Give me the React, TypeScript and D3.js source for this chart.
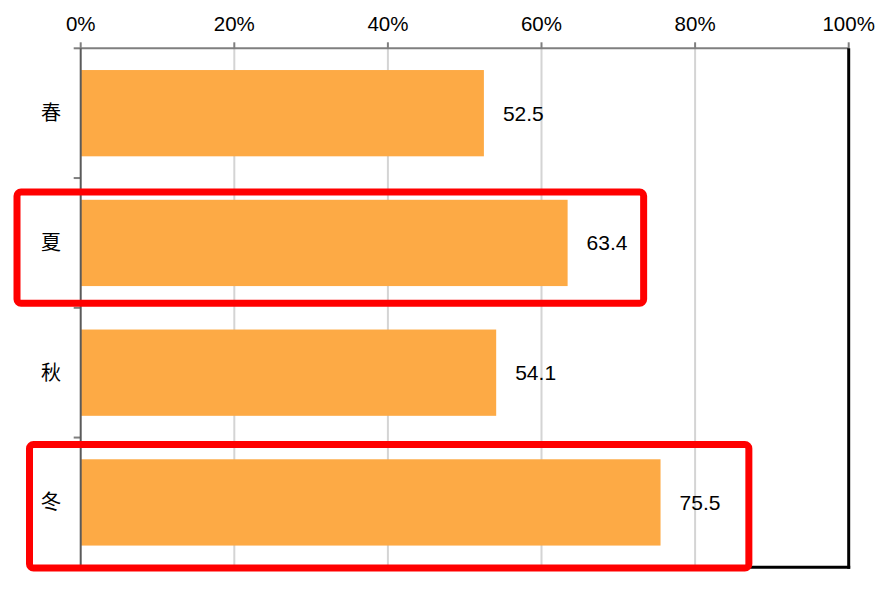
import React from 'react';
import * as d3 from 'd3';

// chart values
const seasons = ['春', '夏', '秋', '冬'];
const rates = [52.5, 63.4, 54.1, 75.5];
const percentTicks = [0, 20, 40, 60, 80, 100];

// highlighted rows: category, right edge (in % of axis), left edge px, top/bottom insets
const highlights = [
  { season: '夏', rightPct: 73.3, left: 17, insetTop: 14, insetBottom: 4.5 },
  { season: '冬', rightPct: 87, left: 29.5, insetTop: 7, insetBottom: -0.7 },
];

function App() {
  const width = 881;
  const height = 589;
  const margin = { top: 48.3, right: 32.3, bottom: 21.7, left: 80.7 };

  const x = d3
    .scaleLinear()
    .domain([0, 100])
    .range([margin.left, width - margin.right]);

  const y = d3
    .scaleBand<string>()
    .domain(seasons)
    .range([margin.top, height - margin.bottom])
    .paddingInner(0.335)
    .paddingOuter(0.1675);

  const step = y.step();
  const bandStart = (s: string) => y(s)! - step * 0.1675;
  const bandEdges = seasons.map((s) => bandStart(s));

  const numFont = '"Liberation Sans", Arial, sans-serif';
  const cjkFont = '"Noto Sans CJK JP", "Noto Sans CJK SC", sans-serif';

  return (
    <svg
      width={width}
      height={height}
      style={{ position: 'absolute', left: 0, top: 0, background: '#fff' }}
    >
      {/* gridlines */}
      {percentTicks.slice(1, -1).map((t) => (
        <line
          key={'g' + t}
          x1={x(t)}
          x2={x(t)}
          y1={margin.top}
          y2={height - margin.bottom}
          stroke="#d4d4d4"
          strokeWidth={2}
        />
      ))}

      {/* top axis */}
      <line
        x1={x(0)}
        x2={x(100)}
        y1={margin.top}
        y2={margin.top}
        stroke="#7f7f7f"
        strokeWidth={2}
      />
      {percentTicks.map((t) => (
        <g key={'t' + t}>
          <line
            x1={x(t)}
            x2={x(t)}
            y1={margin.top - 6}
            y2={margin.top}
            stroke="#7f7f7f"
            strokeWidth={2}
          />
          <text
            x={x(t)}
            y={30.5}
            textAnchor="middle"
            fontFamily={numFont}
            fontSize={20.5}
            fill="#000"
          >
            {t}%
          </text>
        </g>
      ))}

      {/* bars */}
      {seasons.map((s, i) => (
        <rect
          key={'b' + s}
          x={x(0)}
          y={y(s)}
          width={x(rates[i]) - x(0)}
          height={y.bandwidth()}
          fill="#fdaa45"
        />
      ))}

      {/* value labels */}
      {seasons.map((s, i) => (
        <text
          key={'v' + s}
          x={x(rates[i]) + 19}
          y={y(s)! + y.bandwidth() / 2 + 7.5}
          fontFamily={numFont}
          fontSize={21}
          fill="#000"
        >
          {rates[i].toFixed(1)}
        </text>
      ))}

      {/* left axis */}
      {bandEdges.map((e, i) => (
        <line
          key={'lt' + i}
          x1={x(0) - 7}
          x2={x(0)}
          y1={e}
          y2={e}
          stroke="#7f7f7f"
          strokeWidth={2}
        />
      ))}
      <line
        x1={x(0)}
        x2={x(0)}
        y1={margin.top}
        y2={height - margin.bottom}
        stroke="#5a5a5a"
        strokeWidth={2}
      />

      {/* category labels */}
      {seasons.map((s) => (
        <text
          key={'c' + s}
          x={51}
          y={y(s)! + y.bandwidth() / 2 + 7}
          textAnchor="middle"
          fontFamily={cjkFont}
          fontSize={20}
          fontWeight={400}
          fill="#000"
        >
          {s}
        </text>
      ))}

      {/* plot frame right and bottom */}
      <line
        x1={x(100)}
        x2={x(100)}
        y1={margin.top}
        y2={height - margin.bottom + 1.5}
        stroke="#000"
        strokeWidth={3}
      />
      <line
        x1={x(0)}
        x2={x(100) + 1.5}
        y1={height - margin.bottom}
        y2={height - margin.bottom}
        stroke="#000"
        strokeWidth={3}
      />

      {/* red highlight boxes */}
      {highlights.map((h) => {
        const top = bandStart(h.season) + h.insetTop;
        const bottom = bandStart(h.season) + step - h.insetBottom;
        return (
          <rect
            key={'h' + h.season}
            x={h.left}
            y={top}
            width={x(h.rightPct) - h.left}
            height={bottom - top}
            rx={4}
            fill="none"
            stroke="#ff0000"
            strokeWidth={7}
          />
        );
      })}
    </svg>
  );
}

export default App;
